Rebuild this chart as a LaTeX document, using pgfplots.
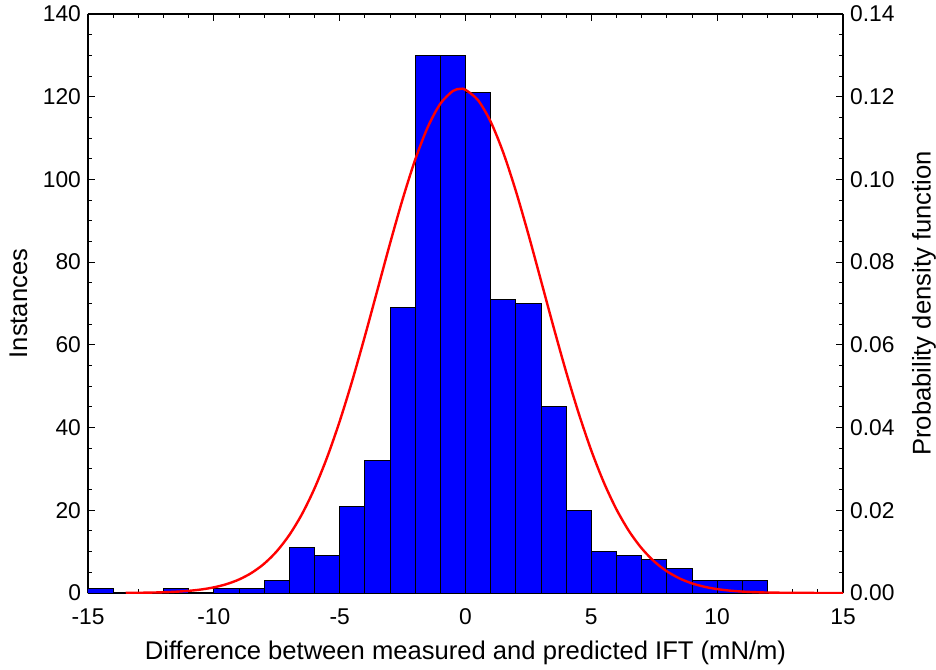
\documentclass[border=0pt]{standalone}
\usepackage{fontspec}
\setmainfont{Liberation Sans}
\usepackage{pgfplots}
\pgfplotsset{compat=1.18}
\begin{document}
\begin{tikzpicture}
\useasboundingbox (-44pt,-38pt) rectangle (424pt,296.5pt);
\pgfplotsset{
  histbase/.style={
    width=377.5pt, height=289.5pt, scale only axis,
    at={(0,0)}, anchor=south west,
    xmin=-15, xmax=15,
    tick align=inside,
    major tick length=3.5pt, minor tick length=2pt,
    tick style={black, line width=0.5pt},
    /pgf/number format/assume math mode=true,
    tick label style={font=\fontsize{11.4}{13}\selectfont},
    label style={font=\fontsize{12.8}{15}\selectfont},
    axis line style={line width=0.7pt},
  }
}
% histogram of residuals (counts per 1 mN/m bin)
\begin{axis}[histbase,
  axis y line*=left,
  ymin=0, ymax=140,
  ytick={0,20,40,60,80,100,120,140}, minor y tick num=3,
  xtick={-15,-10,-5,0,5,10,15}, minor x tick num=4,
  xticklabel style={yshift=-4.5pt},
  xlabel={Difference between measured and predicted IFT (mN/m)},
  xlabel style={at={(axis description cs:0.5,0)}, anchor=center, yshift=-30pt},
  ylabel={Instances},
  ylabel style={at={(axis description cs:0,0.5)}, anchor=center, yshift=34.75pt},
]
\addplot[ybar interval, fill=blue, draw=black, line width=0.5pt] coordinates {
  (-15,1) (-14,0) (-13,0) (-12,1) (-11,0) (-10,1) (-9,1) (-8,3)
  (-7,11) (-6,9) (-5,21) (-4,32) (-3,69) (-2,130) (-1,130) (0,121)
  (1,71) (2,70) (3,45) (4,20) (5,10) (6,9) (7,8) (8,6)
  (9,3) (10,3) (11,3) (12,0)
};
\end{axis}
% fitted normal density on the right-hand axis
\begin{axis}[histbase,
  axis y line*=right, axis x line=none,
  ymin=0, ymax=0.14,
  ytick={0,0.02,0.04,0.06,0.08,0.10,0.12,0.14}, minor y tick num=3,
  yticklabel style={/pgf/number format/.cd, fixed, fixed zerofill, precision=2},
  ylabel={Probability density function},
  ylabel style={at={(axis description cs:1,0.5)}, anchor=center, yshift=-40.5pt},
]
\addplot[red, line width=1.2pt, smooth] coordinates {
  (-13.5,0.000031) (-13,0.000057) (-12.5,0.000103) (-12,0.000181)
  (-11.5,0.000311) (-11,0.000522) (-10.5,0.000853) (-10,0.001365)
  (-9.5,0.002136) (-9,0.003261) (-8.5,0.004866) (-8,0.007085)
  (-7.5,0.010087) (-7,0.01403) (-6.5,0.01905) (-6,0.02528)
  (-5.5,0.03278) (-5,0.04151) (-4.5,0.05134) (-4,0.06206)
  (-3.5,0.07326) (-3,0.08449) (-2.5,0.09518) (-2,0.10476)
  (-1.5,0.11264) (-1,0.11830) (-0.5,0.12139) (-0.2,0.12190)
  (0,0.12167) (0.5,0.11914) (1,0.11396) (1.5,0.10649)
  (2,0.09721) (2.5,0.08670) (3,0.07552) (3.5,0.06427)
  (4,0.05343) (4.5,0.04340) (5,0.03442) (5.5,0.02668)
  (6,0.02020) (6.5,0.01494) (7,0.01080) (7.5,0.007624)
  (8,0.005256) (8.5,0.003539) (9,0.002328) (9.5,0.001497)
  (10,0.000940) (10.5,0.000577) (11,0.000345) (11.5,0.000202)
  (12,0.000116) (13,0.000035) (14,0.00001) (15,0)
};
\end{axis}
\end{tikzpicture}
\end{document}
